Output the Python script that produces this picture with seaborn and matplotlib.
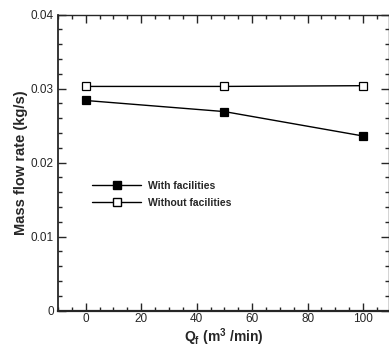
import numpy as np
import pandas as pd
import matplotlib
matplotlib.use("Agg")
import matplotlib.pyplot as plt
import seaborn as sns
from matplotlib.ticker import MultipleLocator

# Data
qf = [0, 50, 100]
with_fac = [0.0284, 0.0269, 0.0236]
without_fac = [0.0303, 0.0303, 0.0304]

df = pd.DataFrame({
    'qf': qf * 2,
    'flow': with_fac + without_fac,
    'caso': ['With facilities'] * 3 + ['Without facilities'] * 3,
})

sns.set_theme(style="ticks")
plt.rcParams['font.family'] = ['Liberation Sans', 'DejaVu Sans']
plt.rcParams['mathtext.fontset'] = 'custom'
plt.rcParams['mathtext.rm'] = 'Liberation Sans:bold'
plt.rcParams['mathtext.it'] = 'Liberation Sans:bold'
plt.rcParams['mathtext.bf'] = 'Liberation Sans:bold'

fig = plt.figure(figsize=(3.89, 3.49), dpi=100)
ax = fig.add_axes([0.149, 0.11, 0.852, 0.848])

sns.lineplot(data=df, x='qf', y='flow', hue='caso', style='caso',
             palette=['black', 'black'], markers=['s', 's'], dashes=False,
             linewidth=1.0, markersize=5.5, markeredgewidth=0.9, ax=ax)

# open marker for "without"
lines = ax.get_lines()
lines[1].set_markerfacecolor('white')
lines[1].set_markeredgecolor('black')
lines[0].set_markerfacecolor('black')
lines[0].set_markeredgecolor('black')

ax.set_xlim(-10, 109.5)
ax.set_ylim(0, 0.04)
ax.xaxis.set_major_locator(MultipleLocator(20))
ax.xaxis.set_minor_locator(MultipleLocator(5))
ax.yaxis.set_minor_locator(MultipleLocator(0.002))
ax.set_yticks([0, 0.01, 0.02, 0.03, 0.04])
ax.set_yticklabels(['0', '0.01', '0.02', '0.03', '0.04'])

ax.tick_params(which='both', direction='in', top=True, right=True,
               labelsize=8.5, width=1.0, pad=3)
ax.tick_params(axis='x', pad=2)
ax.tick_params(which='major', length=6)
ax.tick_params(which='minor', length=3)
for s in ax.spines.values():
    s.set_linewidth(1.0)
ax.spines['bottom'].set_linewidth(1.6)
ax.spines['left'].set_linewidth(1.3)

ax.set_xlabel(r'Q$_f$ (m$^3$ /min)', fontsize=10, fontweight='bold', labelpad=0.5)
ax.set_ylabel('Mass flow rate (kg/s)', fontsize=10.5, fontweight='bold', labelpad=2)

# legend rebuilt to match line + marker look
ax.legend_.remove()
h1 = plt.Line2D([], [], color='black', lw=1.0, marker='s', markersize=5.5,
                markerfacecolor='black')
h2 = plt.Line2D([], [], color='black', lw=1.0, marker='s', markersize=5.5,
                markerfacecolor='white')
leg = ax.legend([h1, h2], ['With facilities', 'Without facilities'],
                loc='upper left', bbox_to_anchor=(0.075, 0.47), frameon=False,
                handlelength=4.7, handletextpad=0.7, labelspacing=0.65,
                prop={'size': 7.5, 'weight': 'bold'})

fig.savefig('out.png', dpi=100)
